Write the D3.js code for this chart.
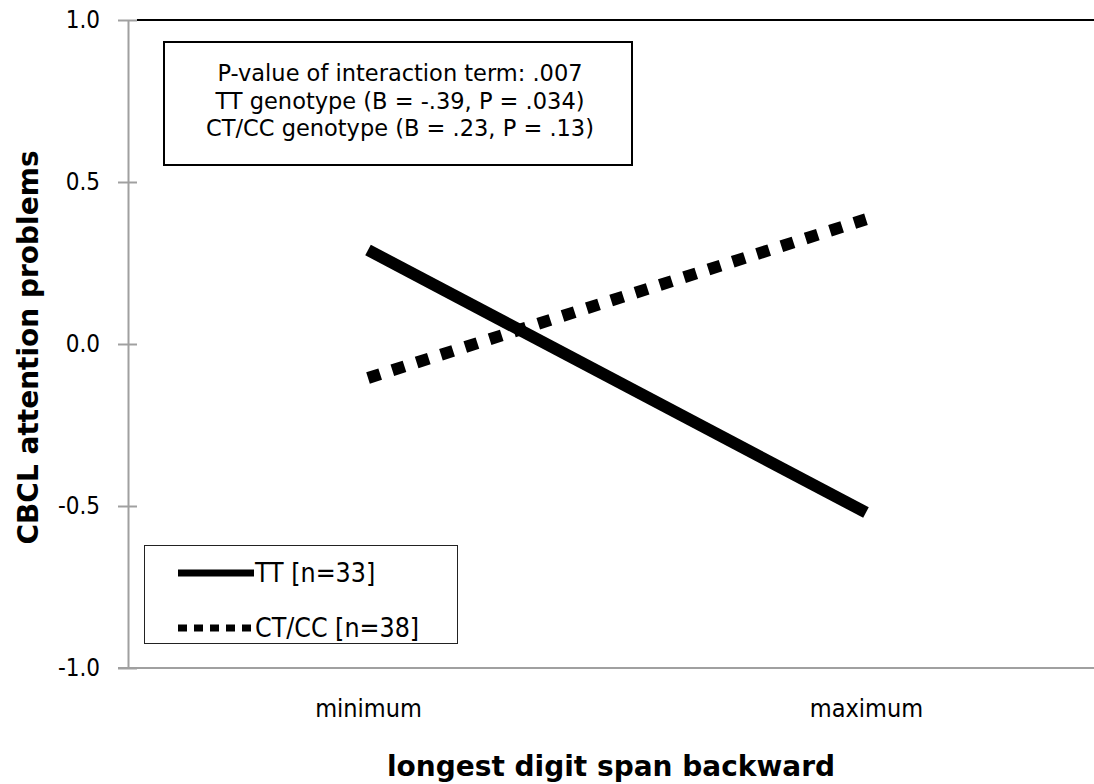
<!DOCTYPE html>
<html>
<head>
<meta charset="utf-8">
<script src="https://cdn.jsdelivr.net/npm/d3@7"></script>
<style>
  html, body { margin: 0; padding: 0; background: #fff; }
  svg { display: block; }
  .f { font-family: "DejaVu Sans Condensed", "DejaVu Sans", Verdana, sans-serif; }
  .n { font-family: "DejaVu Sans", Verdana, sans-serif; }
  .b { font-family: "DejaVu Sans", Verdana, sans-serif; font-weight: bold; }
</style>
</head>
<body>
<svg id="chart" width="1094" height="784"></svg>
<script>
// ---- data ----
const categories = ["minimum", "maximum"];
const ttValues = [0.29, -0.52];
const ctccValues = [-0.105, 0.385];
const yTicks = [-1.0, -0.5, 0.0, 0.5, 1.0];
const seriesNames = ["TT [n=33]", "CT/CC [n=38]"];
const noteLines = [
  "P-value of interaction term: .007",
  "TT genotype (B = -.39, P = .034)",
  "CT/CC genotype (B = .23, P = .13)"
];
const xTitle = "longest digit span backward";
const yTitle = "CBCL attention problems";

// ---- layout ----
const W = 1094, H = 784;
const plotLeft = 128, plotRight = 1106, plotTop = 20, plotBottom = 668;

const svg = d3.select("#chart");

const x = d3.scalePoint().domain(categories).range([plotLeft, plotRight]).padding(0.482);
const y = d3.scaleLinear().domain([-1, 1]).range([plotBottom, plotTop]);

// top border (plot area)
svg.append("line").attr("x1", plotLeft + 9).attr("x2", W).attr("y1", plotTop).attr("y2", plotTop)
  .attr("stroke", "#000").attr("stroke-width", 2);

// y axis
const yAxis = d3.axisLeft(y).tickValues(yTicks).tickSize(0).tickPadding(28);
const gy = svg.append("g").attr("transform", `translate(${plotLeft},0)`).call(yAxis);
gy.attr("font-size", null).attr("font-family", null);
gy.select(".domain").attr("stroke", "#a0a0a0").attr("stroke-width", 2);
gy.selectAll(".tick text").attr("class", "f").style("font-size", "24px").attr("fill", "#000")
  .text(d => d3.format(".1f")(d).replace("−", "-"));
gy.selectAll(".tick").append("line").attr("x1", -10).attr("x2", 9)
  .attr("stroke", "#a0a0a0").attr("stroke-width", 2);

// x axis
const xAxis = d3.axisBottom(x).tickSize(0).tickPadding(31);
const gx = svg.append("g").attr("transform", `translate(0,${plotBottom})`).call(xAxis);
gx.attr("font-size", null).attr("font-family", null);
gx.select(".domain").remove();
svg.append("line").attr("x1", plotLeft - 10).attr("x2", W).attr("y1", plotBottom).attr("y2", plotBottom)
  .attr("stroke", "#a0a0a0").attr("stroke-width", 2);
gx.selectAll(".tick text").attr("class", "f").style("font-size", "25px").attr("fill", "#000");

// axis titles
svg.append("text").attr("class", "b").attr("x", 611).attr("y", 776)
  .attr("text-anchor", "middle").style("font-size", "28px").text(xTitle);
svg.append("text").attr("class", "b")
  .attr("transform", `translate(38,${(150 + 545) / 2}) rotate(-90)`)
  .attr("text-anchor", "middle").style("font-size", "28px").text(yTitle);

// lines
const line = d3.line().x((d, i) => x(categories[i])).y(d => y(d));
svg.append("path").datum(ttValues).attr("d", line)
  .attr("fill", "none").attr("stroke", "#000").attr("stroke-width", 12);
svg.append("path").datum(ctccValues).attr("d", line)
  .attr("fill", "none").attr("stroke", "#000").attr("stroke-width", 12)
  .attr("stroke-dasharray", "12.76,12.76");

// annotation box
svg.append("rect").attr("x", 164).attr("y", 42).attr("width", 468).attr("height", 123)
  .attr("fill", "#fff").attr("stroke", "#000").attr("stroke-width", 2);
svg.append("g").selectAll("text").data(noteLines).join("text")
  .attr("class", "n").attr("x", 400).attr("y", (d, i) => 81 + i * 27.5)
  .attr("text-anchor", "middle").style("font-size", "22.5px").attr("fill", "#000").text(d => d);

// legend
svg.append("rect").attr("x", 144.5).attr("y", 545.5).attr("width", 313).attr("height", 98)
  .attr("fill", "#fff").attr("stroke", "#222").attr("stroke-width", 1);
const legendY = [573, 628];
const lg = svg.append("g");
lg.selectAll("line").data(seriesNames).join("line")
  .attr("x1", 178).attr("x2", 254).attr("y1", (d, i) => legendY[i]).attr("y2", (d, i) => legendY[i])
  .attr("stroke", "#000").attr("stroke-width", 7)
  .attr("stroke-dasharray", (d, i) => i === 1 ? "9,7" : null);
lg.selectAll("text").data(seriesNames).join("text")
  .attr("class", "f").attr("x", 255).attr("y", (d, i) => legendY[i] + 9)
  .style("font-size", "26.5px").attr("fill", "#000").text(d => d);
</script>
</body>
</html>
